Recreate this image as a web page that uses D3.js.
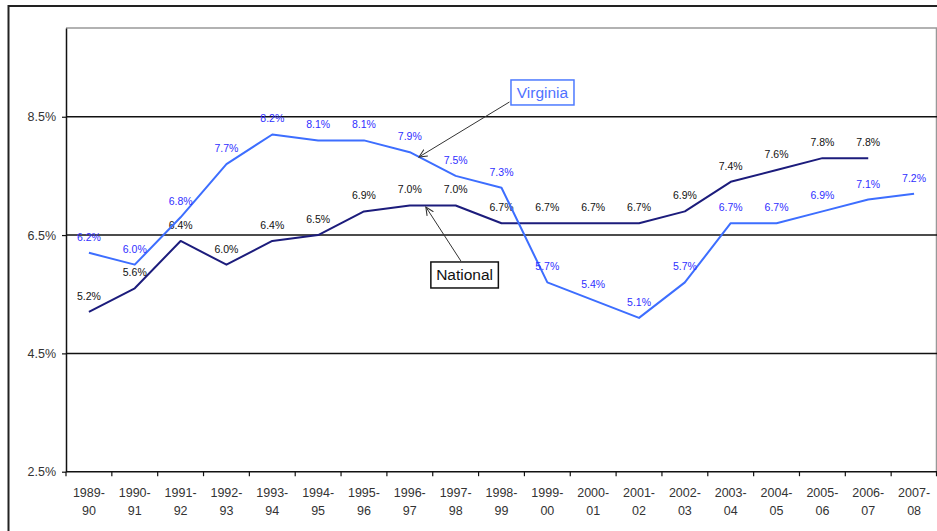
<!DOCTYPE html>
<html>
<head>
<meta charset="utf-8">
<script src="https://cdn.jsdelivr.net/npm/d3@7"></script>
<style>
  html, body { margin: 0; padding: 0; background: #fff; }
  svg { display: block; font-family: "Liberation Sans", Arial, sans-serif; }
</style>
</head>
<body>
<svg id="chart" width="937" height="531"></svg>
<script>
// School years (two-line tick labels)
const years = ["1989-90","1990-91","1991-92","1992-93","1993-94","1994-95","1995-96",
  "1996-97","1997-98","1998-99","1999-00","2000-01","2001-02","2002-03","2003-04",
  "2004-05","2005-06","2006-07","2007-08"];

// Rates, in percent
const virginia = [6.2, 6.0, 6.8, 7.7, 8.2, 8.1, 8.1, 7.9, 7.5, 7.3, 5.7, 5.4, 5.1, 5.7, 6.7, 6.7, 6.9, 7.1, 7.2];
const national = [5.2, 5.6, 6.4, 6.0, 6.4, 6.5, 6.9, 7.0, 7.0, 6.7, 6.7, 6.7, 6.7, 6.9, 7.4, 7.6, 7.8, 7.8];

// Value axis
const yTicks = [2.5, 4.5, 6.5, 8.5];
const yMin = 2.5, yMax = 10;

const svg = d3.select("#chart");
const plot = { left: 66, top: 28, right: 937, bottom: 471.7 };

// Outer chart frame
svg.append("rect")
  .attr("x", 8.5).attr("y", 6).attr("width", 960).attr("height", 560)
  .attr("fill", "none").attr("stroke", "#222").attr("stroke-width", 2);

const x = d3.scaleBand().domain(years).range([plot.left, plot.right]).padding(0);
const y = d3.scaleLinear().domain([yMin, yMax]).range([plot.bottom, plot.top]);
const cx = d => x(d) + x.bandwidth() / 2;

// Plot area border (top and right, grey)
svg.append("path")
  .attr("d", `M${plot.left},${y(yMax)}H${plot.right - 0.5}V${plot.bottom}`)
  .attr("fill", "none").attr("stroke", "#999").attr("stroke-width", 1.5);

// Horizontal gridlines
svg.append("g").selectAll("line")
  .data(yTicks.filter(t => t > yMin))
  .join("line")
  .attr("x1", plot.left).attr("x2", plot.right)
  .attr("y1", d => y(d)).attr("y2", d => y(d))
  .attr("stroke", "#111").attr("stroke-width", 1.5);

// Y axis
const yAxis = d3.axisLeft(y).tickValues(yTicks).tickSize(4).tickSizeOuter(0).tickPadding(6)
  .tickFormat(d => d3.format(".1f")(d) + "%");
const gy = svg.append("g").attr("transform", `translate(${plot.left},0)`).call(yAxis);
gy.select(".domain").attr("stroke", "#111").attr("stroke-width", 1.5);
gy.selectAll(".tick line").attr("stroke", "#111").attr("stroke-width", 1.2);
gy.selectAll(".tick text").attr("font-size", "12.5px").attr("fill", "#333")
  .attr("font-family", "'Liberation Sans', Arial, sans-serif");

// X axis with ticks at category boundaries
svg.append("line")
  .attr("x1", plot.left).attr("x2", plot.right)
  .attr("y1", plot.bottom).attr("y2", plot.bottom)
  .attr("stroke", "#111").attr("stroke-width", 1.5);
const bounds = years.map(d => x(d)).concat([plot.right - 0.5]);
svg.append("g").selectAll("line")
  .data(bounds)
  .join("line")
  .attr("x1", d => d).attr("x2", d => d)
  .attr("y1", plot.bottom).attr("y2", plot.bottom + 4.5)
  .attr("stroke", "#111").attr("stroke-width", 1.2);

const xl = svg.append("g").selectAll("text").data(years).join("text")
  .attr("x", d => cx(d)).attr("text-anchor", "middle")
  .attr("font-size", "12.5px").attr("fill", "#333");
xl.append("tspan").attr("x", d => cx(d)).attr("y", plot.bottom + 25)
  .text(d => d.split("-")[0] + "-");
xl.append("tspan").attr("x", d => cx(d)).attr("y", plot.bottom + 43.5)
  .text(d => d.split("-")[1]);

// Series
const series = [
  { name: "National", values: national, line: "#1c1c7c", label: "#111" },
  { name: "Virginia", values: virginia, line: "#3d6eff", label: "#2f2fff" }
];

const line = d3.line().x(d => cx(d.year)).y(d => y(d.v));

series.forEach(s => {
  const pts = s.values.map((v, i) => ({ year: years[i], v }));
  svg.append("path").datum(pts)
    .attr("d", line)
    .attr("fill", "none").attr("stroke", s.line).attr("stroke-width", 2)
    .attr("stroke-linejoin", "round");
  svg.append("g").selectAll("text").data(pts).join("text")
    .attr("x", d => cx(d.year)).attr("y", d => y(d.v) - 12)
    .attr("text-anchor", "middle")
    .attr("font-size", "10.5px").attr("fill", s.label)
    .text(d => d3.format(".1f")(d.v) + "%");
});

// Callouts: arrow tip anchored on a series segment, box offset from the tip
const callouts = [
  { text: "Virginia", values: virginia, idx: 7, t: 0.2, tipDy: 0,
    box: { dx: 92, dy: -77, w: 63, h: 25 }, from: { fx: -1.5, fy: 22 },
    color: "#4d7aff", textColor: "#4f72ff" },
  { text: "National", values: national, idx: 7, t: 0.35, tipDy: 1.5,
    box: { dx: 5, dy: 55, w: 67.5, h: 26 }, from: { fx: 30, fy: -1 },
    color: "#111", textColor: "#111" }
];

const defs = svg.append("defs");
defs.append("marker").attr("id", "arrowOpen")
  .attr("viewBox", "0 0 10 10").attr("refX", 9).attr("refY", 5)
  .attr("markerWidth", 9).attr("markerHeight", 9).attr("markerUnits", "userSpaceOnUse")
  .attr("orient", "auto")
  .append("path").attr("d", "M0,0.8L9,5L0,9.2")
  .attr("fill", "none").attr("stroke", "#333").attr("stroke-width", 1.2);

callouts.forEach(c => {
  const a = c.values[c.idx], b = c.values[c.idx + 1];
  const tx = cx(years[c.idx]) + c.t * x.bandwidth();
  const ty = y(a + (b - a) * c.t) + c.tipDy;
  const bx = tx + c.box.dx, by = ty + c.box.dy;
  svg.append("line")
    .attr("x1", bx + c.from.fx).attr("y1", by + c.from.fy)
    .attr("x2", tx).attr("y2", ty)
    .attr("stroke", "#333").attr("stroke-width", 1)
    .attr("marker-end", "url(#arrowOpen)");
  svg.append("rect")
    .attr("x", bx).attr("y", by).attr("width", c.box.w).attr("height", c.box.h)
    .attr("fill", "#fff").attr("stroke", c.color).attr("stroke-width", 1.5);
  svg.append("text")
    .attr("x", bx + c.box.w / 2).attr("y", by + c.box.h / 2 + 5.5)
    .attr("text-anchor", "middle").attr("font-size", "15.5px")
    .attr("fill", c.textColor).text(c.text);
});
</script>
</body>
</html>
